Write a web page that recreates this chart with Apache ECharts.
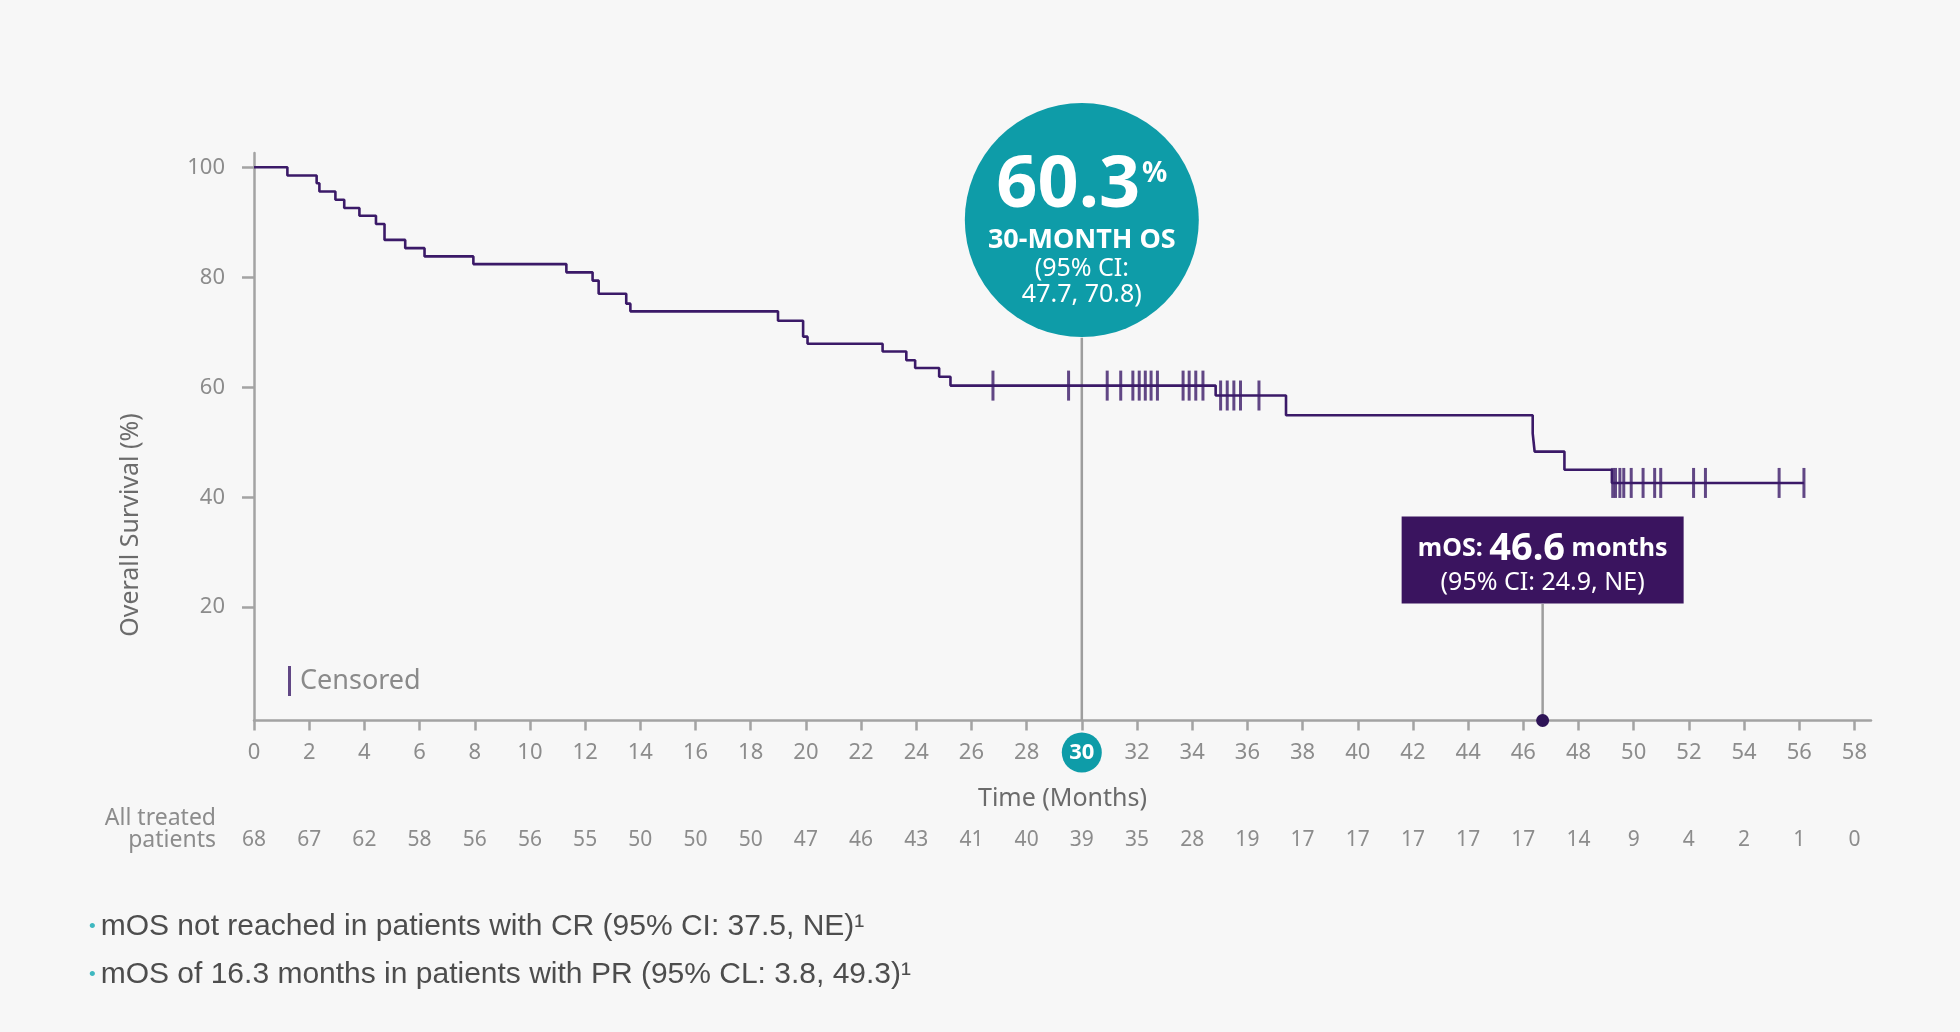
<!DOCTYPE html>
<html style="height: 100%">
<head>
    <meta charset="utf-8">
    <script src="https://cdn.jsdelivr.net/npm/echarts@6/dist/echarts.min.js"></script>
</head>
<body style="height: 100%; margin: 0; background: #f7f7f7">
    <div id="main" style="width: 1960px; height: 1032px;"></div>
    <script type="text/javascript">
    // KM curve: time of each step (months) and survival after the step (%)
    var stepMonths = [0, 1.21, 2.27, 2.37, 2.95, 3.27, 3.82, 4.42, 4.73, 5.48, 6.18, 7.95,
        11.32, 12.27, 12.49, 13.49, 13.64, 18.99, 19.9, 20.06, 22.78, 23.64, 23.96, 24.83,
        25.24, 34.85, 37.4, 46.34, 46.41, 47.49, 49.21, 56.17];
    var stepSurvival = [100, 98.5, 97.1, 95.6, 94.1, 92.6, 91.2, 89.7, 86.8, 85.3, 83.8, 82.4,
        80.9, 79.4, 77.0, 75.2, 73.8, 72.1, 69.2, 67.9, 66.5, 64.9, 63.5, 61.9,
        60.3, 58.5, 54.9, 51.6, 48.3, 45.0, 42.6, 42.6];

    // censored patients
    var censorMonths = [26.78, 29.52, 30.92, 31.41, 31.85, 32.08, 32.30, 32.51, 32.74, 33.67,
        33.89, 34.13, 34.39, 35.03, 35.27, 35.51, 35.75, 36.42, 49.24, 49.34, 49.50, 49.64,
        49.91, 50.34, 50.76, 50.98, 52.17, 52.60, 55.27, 56.17];
    var censorSurvival = [60.3, 60.3, 60.3, 60.3, 60.3, 60.3, 60.3, 60.3, 60.3, 60.3,
        60.3, 60.3, 60.3, 58.5, 58.5, 58.5, 58.5, 58.5, 42.6, 42.6, 42.6, 42.6,
        42.6, 42.6, 42.6, 42.6, 42.6, 42.6, 42.6, 42.6];

    // axis ticks and number at risk
    var monthTicks = [0, 2, 4, 6, 8, 10, 12, 14, 16, 18, 20, 22, 24, 26, 28, 30, 32, 34, 36, 38,
        40, 42, 44, 46, 48, 50, 52, 54, 56, 58];
    var atRisk = [68, 67, 62, 58, 56, 56, 55, 50, 50, 50, 47, 46, 43, 41, 40, 39, 35, 28, 19, 17,
        17, 17, 17, 17, 14, 9, 4, 2, 1, 0];
    var survivalTicks = [20, 40, 60, 80, 100];

    // annotations
    var osMonth = 30, osValue = '60.3', osCi = ['(95% CI:', '47.7, 70.8)'];
    var mosMonth = 46.7, mosValue = '46.6', mosCi = '(95% CI: 24.9, NE)';

    var purple = '#3b1a68';
    var teal = '#0e9ca8';
    var axisGray = '#a3a3a3';
    var labelGray = '#8c8c8c';
    var font = 'Noto Sans';

    var myChart = echarts.init(document.getElementById('main'));

    var curve = stepMonths.map(function (m, i) { return [m, stepSurvival[i]]; });
    var censored = censorMonths.map(function (m, i) { return [m, censorSurvival[i]]; });

    var option = {
        backgroundColor: '#f7f7f7',
        textStyle: { fontFamily: font },
        animation: false,
        grid: { left: 254, right: 89, top: 153, bottom: 311.5 },
        legend: {
            data: ['Censored'],
            left: 283,
            top: 661,
            icon: 'rect',
            itemWidth: 3,
            itemHeight: 30,
            selectedMode: false,
            textStyle: { fontSize: 27, color: '#8a8a8a', fontFamily: font, padding: [0, 0, 0, 4] }
        },
        xAxis: [
            {
                type: 'value',
                min: 0,
                max: 58.6,
                name: 'Time (Months)',
                nameLocation: 'middle',
                nameGap: 66,
                nameTextStyle: { fontSize: 25, color: '#6b6b6b' },
                axisLine: { onZero: false, lineStyle: { color: axisGray, width: 2.5 } },
                axisTick: { customValues: monthTicks, length: 10, lineStyle: { color: axisGray, width: 2.5 } },
                splitLine: { show: false },
                axisLabel: {
                    customValues: monthTicks,
                    margin: 12,
                    fontSize: 22,
                    lineHeight: 40,
                    color: labelGray,
                    formatter: function (v) { return v === osMonth ? '{hl|' + v + '}' : '' + v; },
                    rich: {
                        hl: {
                            width: 40, height: 40, lineHeight: 40, borderRadius: 20,
                            backgroundColor: teal, color: '#fff', fontWeight: 'bold',
                            fontSize: 22, align: 'center'
                        }
                    }
                }
            },
            {
                type: 'value',
                min: 0,
                max: 58.6,
                position: 'bottom',
                offset: 102,
                axisLine: { show: false, onZero: false },
                axisTick: { show: false },
                splitLine: { show: false },
                axisLabel: {
                    customValues: monthTicks,
                    margin: 7,
                    fontSize: 21,
                    color: labelGray,
                    formatter: function (v) { return '' + atRisk[monthTicks.indexOf(v)]; }
                }
            }
        ],
        yAxis: {
            type: 'value',
            min: -0.6,
            max: 102.6,
            axisLine: { show: true, lineStyle: { color: axisGray, width: 2.5 } },
            axisTick: { show: true, customValues: survivalTicks, length: 12, lineStyle: { color: axisGray, width: 2.5 } },
            splitLine: { show: false },
            axisLabel: { customValues: survivalTicks, margin: 29, fontSize: 22, color: labelGray }
        },
        graphic: [
            {
                type: 'text', x: 131, y: 525, rotation: Math.PI / 2,
                style: {
                    text: 'Overall Survival (%)', fill: '#6b6b6b', font: '25px "Noto Sans"',
                    align: 'center', verticalAlign: 'middle'
                }
            },
            {
                type: 'text', x: 216, y: 829,
                style: {
                    text: 'All treated\npatients', fill: labelGray, font: '23px "Noto Sans"',
                    align: 'right', verticalAlign: 'middle', lineHeight: 22
                }
            },
            {
                type: 'text', x: 89, y: 927,
                style: {
                    text: '{b|•}{t|mOS not reached in patients with CR (95% CI: 37.5, NE)¹}',
                    verticalAlign: 'middle',
                    rich: {
                        b: { fill: '#3fb8c0', fontSize: 19, fontFamily: 'Liberation Sans', padding: [0, 5, 0, 0] },
                        t: { fill: '#4d4d4d', fontSize: 30, fontFamily: 'Liberation Sans' }
                    }
                }
            },
            {
                type: 'text', x: 89, y: 975,
                style: {
                    text: '{b|•}{t|mOS of 16.3 months in patients with PR (95% CL: 3.8, 49.3)¹}',
                    verticalAlign: 'middle',
                    rich: {
                        b: { fill: '#3fb8c0', fontSize: 19, fontFamily: 'Liberation Sans', padding: [0, 5, 0, 0] },
                        t: { fill: '#4d4d4d', fontSize: 30, fontFamily: 'Liberation Sans' }
                    }
                }
            }
        ],
        series: [
            {
                type: 'line',
                data: [[osMonth, -0.6], [osMonth, 69]],
                symbol: 'none',
                silent: true,
                z: 1,
                lineStyle: { color: '#9e9e9e', width: 2.5 }
            },
            {
                type: 'line',
                data: [[mosMonth, -0.6], [mosMonth, 20.6]],
                symbol: 'none',
                silent: true,
                z: 1,
                lineStyle: { color: '#9e9e9e', width: 2.5 }
            },
            {
                name: 'Overall survival',
                type: 'line',
                step: 'end',
                data: curve,
                symbol: 'none',
                z: 3,
                lineStyle: { color: purple, width: 2.6 }
            },
            {
                name: 'Censored',
                type: 'scatter',
                data: censored,
                symbol: 'rect',
                symbolSize: [3, 30],
                z: 4,
                itemStyle: { color: purple }
            },
            {
                type: 'scatter',
                data: [[osMonth, 90.4]],
                symbolSize: 234,
                z: 5,
                silent: true,
                itemStyle: { color: teal, opacity: 1 },
                label: {
                    show: true,
                    position: 'inside',
                    offset: [0, 8],
                    formatter: '{big|' + osValue + '}{pct|%}\n{os|30-MONTH OS}\n{ci|' + osCi[0] + '}\n{ci|' + osCi[1] + '}',
                    rich: {
                        big: { fontSize: 72, fontWeight: 'bold', color: '#fff', lineHeight: 76 },
                        pct: { fontSize: 28, fontWeight: 'bold', color: '#fff', lineHeight: 40, verticalAlign: 'top', padding: [12, 0, 0, 2] },
                        os: { fontSize: 27, fontWeight: 'bold', color: '#fff', lineHeight: 32 },
                        ci: { fontSize: 25, color: '#fff', lineHeight: 26 }
                    }
                }
            },
            {
                type: 'scatter',
                data: [[mosMonth, 28.6]],
                symbol: 'rect',
                symbolSize: [282, 87],
                z: 5,
                silent: true,
                itemStyle: { color: '#3a145f', opacity: 1 },
                label: {
                    show: true,
                    position: 'inside',
                    offset: [0, 6],
                    formatter: '{a|mOS: }{b|' + mosValue + '}{a| months}\n{c|' + mosCi + '}',
                    rich: {
                        a: { fontSize: 25, fontWeight: 'bold', color: '#fff', lineHeight: 34 },
                        b: { fontSize: 38, fontWeight: 'bold', color: '#fff', lineHeight: 34 },
                        c: { fontSize: 25, color: '#fff', lineHeight: 34 }
                    }
                }
            },
            {
                type: 'scatter',
                data: [[mosMonth, -0.6]],
                symbolSize: 13,
                z: 5,
                silent: true,
                itemStyle: { color: '#2e1457', opacity: 1 }
            }
        ]
    };

    myChart.setOption(option);
    </script>
</body>
</html>
